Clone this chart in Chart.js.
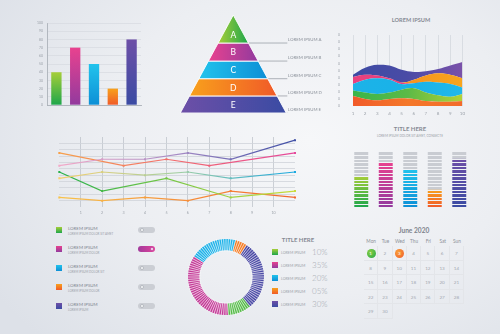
<!DOCTYPE html>
<html lang="en">
<head>
<meta charset="UTF-8">
<title>Infographic</title>
<script src="https://cdn.jsdelivr.net/npm/chart.js"></script>
<style>
  html, body { margin: 0; padding: 0; }
  body {
    width: 500px; height: 334px; overflow: hidden; position: relative;
    font-family: Lato, 'Open Sans', sans-serif;
    background: radial-gradient(ellipse 75% 85% at 62% 42%, #f6f7f9 0%, #eceef2 55%, #dde1e8 100%);
  }
  .box { position: absolute; }
  .title { position: absolute; color: #868b94; font-weight: 700; text-align: center; white-space: nowrap; }
  .small { position: absolute; color: #9aa0a8; white-space: nowrap; text-transform: uppercase; }
  .row { position: absolute; left: 56px; width: 100px; height: 10px; }
  .sq { position: absolute; left: 0; top: 0; width: 6px; height: 6px; }
  .row .t1 { position: absolute; left: 12px; top: -1px; font-size: 4.4px; color: #7f858f; white-space: nowrap; }
  .row .t2 { position: absolute; left: 12px; top: 5px; font-size: 3px; color: #9aa0a8; white-space: nowrap; }
  .tog { position: absolute; left: 82px; top: 0; width: 17px; height: 6px; border-radius: 3px; background: #cbced4; }
  .tog i { position: absolute; top: 1px; left: 1.5px; width: 4px; height: 4px; border-radius: 50%; background: #fff; box-sizing: border-box; border: 1px solid #b5b9c0; }
  .tog.on { background: linear-gradient(90deg, #a23a9c, #e0439a); }
  .tog.on i { left: auto; right: 1.5px; border-color: #c54aa4; }
  .lg { position: absolute; left: 272px; height: 8px; }
  .lg .sq { top: 0; }
  .lg .t1 { position: absolute; left: 9px; top: 1.2px; font-size: 3.6px; color: #9aa0a8; white-space: nowrap; }
  .lg .pc { position: absolute; left: 40px; top: -2.5px; font-size: 8px; color: #a2a7af; font-weight: 300; }
  #cal { position: absolute; left: 364px; top: 226px; width: 100px; }
  #cal .m { text-align: center; font-size: 6.6px; font-weight: 700; color: #7e838c; height: 10px; }
  #cal .g { display: grid; grid-template-columns: repeat(7, 14.3px); }
  #cal .h { font-size: 4.7px; color: #8b9098; text-align: center; height: 10px; line-height: 10px; }
  #cal .d { font-size: 4.6px; color: #a3a8b0; text-align: center; height: 14.5px; line-height: 14.5px; position: relative;
    border-right: 0.5px solid #e3e5e9; border-bottom: 0.5px solid #e3e5e9; box-sizing: border-box; }
  #cal .d.mk { color: #fff; }
  #cal .d.mk::before { content: ''; position: absolute; left: 2.6px; top: 2.7px; width: 9px; height: 9px; border-radius: 50%; z-index: -1; }
  #cal .d.green::before { background: radial-gradient(circle at 35% 35%, #8ccf3f, #1ea64b); }
  #cal .d.orange::before { background: radial-gradient(circle at 35% 35%, #f9a13a, #f05a28); }
</style>
</head>
<body>
  <div class="box" style="left:28px;top:17px;width:114px;height:100px"><canvas id="bars"></canvas></div>
  <div class="box" style="left:174.7px;top:15px;width:160px;height:100px"><canvas id="pyramid"></canvas></div>

  <div class="title" style="left:371px;top:16px;width:80px;font-size:5.6px">LOREM IPSUM</div>
  <div class="box" style="left:338px;top:28px;width:132px;height:88px"><canvas id="stream"></canvas></div>

  <div class="box" style="left:50px;top:133px;width:250px;height:83px"><canvas id="lines"></canvas></div>

  <div class="title" style="left:370px;top:125px;width:80px;font-size:6px">TITLE HERE</div>
  <div class="small" style="left:360px;top:134px;width:100px;font-size:3.2px;text-align:center">LOREM IPSUM DOLOR SIT AMET, CONSECTE</div>
  <div class="box" style="left:348.75px;top:152px;width:122.5px;height:63px"><canvas id="levels"></canvas></div>

  <div id="toggles"></div>

  <div class="box" style="left:187.5px;top:239px;width:76px;height:76px"><canvas id="donut"></canvas></div>
  <div class="title" style="left:278px;top:236px;width:40px;font-size:6px">TITLE HERE</div>
  <div id="donutLegend"></div>

  <div id="cal"></div>

<script>
// top left bars
const barLabels = ['1', '2', '3', '4', '5'];
const barValues = [40, 70, 50, 20, 80];

// pyramid
const pyramidLetters = ['A', 'B', 'C', 'D', 'E'];
const pyramidNames = ['LOREM IPSUM A', 'LOREM IPSUM B', 'LOREM IPSUM C', 'LOREM IPSUM D', 'LOREM IPSUM E'];
const pyramidBounds = [5, 3.57, 2.65, 1.75, 0.87, 0];

// stacked waves, bottom to top
const streamX = ['1', '2', '3', '4', '5', '6', '7', '8', '9', '10'];
const streamOrange = [14, 10, 8, 10, 11, 10, 7, 6, 6, 7];
const streamGreen = [8, 9, 9, 9, 12, 15, 12, 9, 7, 10];
const streamCyan = [9, 18, 22, 18, 8, 7, 15, 18, 18, 9];
const streamPink = [10, 7, 4, 2, 2, 0, 0, 0, 0, 0];
const streamAmber = [0, 0, 0, 0, 0, 5, 9, 13, 13, 13];
const streamIndigo = [3, 10, 15, 18, 18, 11, 6, 6, 13, 23];

// line chart, x positions 0..11 (only 1..10 labelled)
const lineX = ['', '1', '2', '3', '4', '5', '6', '7', '8', '9', '10', ''];
const lineIndigo = [6.5, null, 7.5, null, 7.5, null, 8.5, null, 7.5, null, null, 10.5];
const linePink = [8.5, null, null, 6.5, null, 7.5, null, 6.5, null, null, null, 8.5];
const lineCyan = [4.5, null, 5.5, null, 5, null, 5.5, null, 4.5, null, null, 5.5];
const lineGreen = [5.5, null, 2.5, null, null, 4.5, null, null, 1.5, null, null, 2.5];
const lineOrange = [1.5, null, 1, null, 1.5, null, 1, null, 2.5, null, null, 1.5];

// segmented columns
const optionLabels = ['OPTION 1', 'OPTION 2', 'OPTION 3', 'OPTION 4', 'OPTION 5'];
const optionFilled = [9, 13, 11, 5, 14];
const optionSegments = 16;

// donut
const donutNames = ['LOREM IPSUM', 'LOREM IPSUM', 'LOREM IPSUM', 'LOREM IPSUM', 'LOREM IPSUM'];
const donutValues = [10, 35, 20, 5, 30];
const donutText = ['10%', '35%', '20%', '05%', '30%'];

// toggle list
const toggleTitles = ['LOREM IPSUM', 'LOREM IPSUM', 'LOREM IPSUM', 'LOREM IPSUM', 'LOREM IPSUM'];
const toggleNotes = ['LOREM IPSUM DOLOR SIT AMET', 'LOREM IPSUM DOLOR', 'LOREM IPSUM DOLOR SIT', 'LOREM IPSUM DOLOR', 'LOREM IPSUM'];
const toggleOn = [false, true, false, false, false];

// calendar
const calMonth = 'June 2020';
const calDays = ['Mon', 'Tue', 'Wed', 'Thu', 'Fri', 'Sat', 'Sun'];
const calLength = 30;
const calMarks = { 1: 'green', 3: 'orange' };

// colour pairs used everywhere (light end, dark end)
const palette = {
  green: ['#a6ce39', '#1ea64b'],
  magenta: ['#e8428f', '#923a9e'],
  cyan: ['#22c3ec', '#0d8fd6'],
  orange: ['#f8a11c', '#f05a28'],
  indigo: ['#6d4fa7', '#3a4ba3']
};
const order = ['green', 'magenta', 'cyan', 'orange', 'indigo'];
const donutColors = ['#55bb48', '#c43c98', '#1fb2e8', '#f47b23', '#4d4ca6'];

Chart.defaults.font.family = 'Lato';
Chart.defaults.color = '#9aa0a8';
Chart.defaults.animation = false;
Chart.defaults.plugins.legend.display = false;
Chart.defaults.plugins.tooltip.enabled = false;

function hGrad(chart, stops, x0, x1) {
  const a = chart.chartArea;
  if (!a) return stops[0];
  const g = chart.ctx.createLinearGradient(x0 ?? a.left, 0, x1 ?? a.right, 0);
  stops.forEach((c, i) => g.addColorStop(i / (stops.length - 1), c));
  return g;
}
function vGrad(chart, top, bottom, stops) {
  const g = chart.ctx.createLinearGradient(0, bottom, 0, top);
  stops.forEach((c, i) => g.addColorStop(i / (stops.length - 1), c));
  return g;
}

// ---- bars
new Chart(document.getElementById('bars'), {
  type: 'bar',
  data: {
    labels: barLabels,
    datasets: [{
      data: barValues,
      barPercentage: 0.55,
      categoryPercentage: 1,
      backgroundColor: ctx => {
        const chart = ctx.chart;
        if (!chart.chartArea) return '#999';
        const c = palette[order[ctx.dataIndex]];
        return vGrad(chart, chart.scales.y.getPixelForValue(ctx.raw), chart.chartArea.bottom, [c[1], c[0]]);
      }
    }]
  },
  options: {
    responsive: true, maintainAspectRatio: false,
    layout: { padding: { top: 3, right: 1 } },
    scales: {
      x: {
        grid: { display: false },
        border: { color: '#a5abb3', width: 0.8 },
        ticks: { font: { size: 4.5 }, padding: 4 },
        afterFit: s => { s.height = 12; }
      },
      y: {
        min: 0, max: 100,
        ticks: { stepSize: 10, font: { size: 3.4 }, padding: 4 },
        grid: { color: '#d3d7dd', lineWidth: 0.6, drawTicks: false },
        border: { color: '#a5abb3', width: 0.8 },
        afterFit: s => { s.width = 19; }
      }
    }
  }
});

// ---- pyramid
const halfWidth = v => 1 - v / 5;
const labelX = 1.02;
const pyramidSets = pyramidLetters.map((l, i) => {
  const top = pyramidBounds[i], bot = pyramidBounds[i + 1];
  const c = palette[order[i]];
  return {
    type: 'scatter', showLine: true, fill: 'shape',
    data: [{ x: -halfWidth(top), y: top }, { x: halfWidth(top), y: top }, { x: halfWidth(bot), y: bot }, { x: -halfWidth(bot), y: bot }, { x: -halfWidth(top), y: top }],
    borderColor: 'rgba(255,255,255,0.9)', borderWidth: 1, pointRadius: 0,
    backgroundColor: ctx => {
      const ch = ctx.chart;
      if (!ch.chartArea) return c[0];
      const xs = ch.scales.x;
      return hGrad(ch, [c[0], c[1]], xs.getPixelForValue(-halfWidth(bot)), xs.getPixelForValue(halfWidth(bot)));
    }
  };
});
const leaderSets = pyramidLetters.map((l, i) => {
  const bot = pyramidBounds[i + 1];
  return {
    type: 'scatter', showLine: true, fill: false,
    data: [{ x: halfWidth(bot) + 0.01, y: bot }, { x: labelX, y: bot }],
    borderColor: '#8f959e', borderWidth: 0.7, pointRadius: 0
  };
});
const pyramidText = {
  id: 'pyramidText',
  afterDatasetsDraw(chart) {
    const { ctx, scales: { x, y } } = chart;
    ctx.save();
    pyramidLetters.forEach((letter, i) => {
      const top = pyramidBounds[i], bot = pyramidBounds[i + 1];
      const mid = bot + (top - bot) * (i === 0 ? 0.3 : 0.5);
      ctx.fillStyle = '#ffffff';
      ctx.font = '8.5px Lato';
      ctx.textAlign = 'center';
      ctx.textBaseline = 'middle';
      ctx.fillText(letter, x.getPixelForValue(0), y.getPixelForValue(mid) + 0.5);
      ctx.fillStyle = '#8a9099';
      ctx.font = '4.4px Lato';
      ctx.textAlign = 'left';
      ctx.textBaseline = 'bottom';
      ctx.fillText(pyramidNames[i], x.getPixelForValue(labelX) + 0.5, y.getPixelForValue(bot) - 1.2);
    });
    ctx.restore();
  }
};
new Chart(document.getElementById('pyramid'), {
  type: 'scatter',
  data: { datasets: [...pyramidSets, ...leaderSets] },
  options: {
    responsive: true, maintainAspectRatio: false,
    layout: { padding: { bottom: 2, top: 0 } },
    scales: {
      x: { type: 'linear', min: -1.1, max: 1.92, display: false },
      y: { type: 'linear', min: 0, max: 5, display: false }
    }
  },
  plugins: [pyramidText]
});

// ---- stream
const streamSeries = [
  [streamOrange, ['#f15a29', '#f4782a', '#f26a2a']],
  [streamGreen, ['#3ab54a', '#5cba47', '#b3d235']],
  [streamCyan, ['#1cb3e8', '#19b2e8', '#21b8ea']],
  [streamPink, ['#e8417e', '#e8417e', '#e8417e']],
  [streamAmber, ['#f7931e', '#f7931e', '#f8a51d']],
  [streamIndigo, ['#3d4ba3', '#4a4ba6', '#7a51a9']]
];
new Chart(document.getElementById('stream'), {
  type: 'line',
  data: {
    labels: streamX,
    datasets: streamSeries.map(([vals, stops], i) => ({
      data: vals,
      fill: i === 0 ? 'origin' : '-1',
      tension: 0.4, pointRadius: 0, borderWidth: 0,
      backgroundColor: ctx => hGrad(ctx.chart, stops)
    }))
  },
  options: {
    responsive: true, maintainAspectRatio: false,
    layout: { padding: { top: 2.7, right: 3 } },
    scales: {
      x: {
        grid: { color: 'rgba(200,204,212,0.9)', lineWidth: 0.6, drawTicks: false },
        border: { display: false },
        ticks: { font: { size: 4.5 }, padding: 5 },
        afterFit: s => { s.height = 10; }
      },
      y: {
        stacked: true, min: 0, max: 100,
        grid: { display: false },
        border: { display: false },
        ticks: { stepSize: 10, font: { size: 3.4 }, padding: 5 },
        afterFit: s => { s.width = 15; }
      }
    }
  }
});

// ---- lines
const lineSeries = [
  [lineIndigo, ['#f3a9c8', '#a58ac4', '#3f4fa6']],
  [linePink, ['#f7a04a', '#f26a6e', '#e5489b']],
  [lineCyan, ['#f6cf6c', '#a4cfa2', '#1aa8e0']],
  [lineGreen, ['#27b04b', '#7cc845', '#c8dc3a']],
  [lineOrange, ['#f8c34a', '#f6923c', '#f2662e']]
];
new Chart(document.getElementById('lines'), {
  type: 'line',
  data: {
    labels: lineX,
    datasets: lineSeries.map(([vals, stops]) => ({
      data: vals, spanGaps: true, fill: false, tension: 0,
      borderWidth: 1.2, pointStyle: 'rect', pointRadius: 1.4, pointBorderWidth: 0,
      borderColor: ctx => hGrad(ctx.chart, stops),
      pointBackgroundColor: ctx => hGrad(ctx.chart, stops)
    }))
  },
  options: {
    responsive: true, maintainAspectRatio: false,
    layout: { padding: { left: 9.3, right: 5, top: 4 } },
    scales: {
      x: {
        grid: {
          color: ctx => (ctx.index === 0 || ctx.index === lineX.length - 1) ? 'rgba(0,0,0,0)' : '#b9bec6',
          lineWidth: 0.7, drawTicks: false
        },
        border: { display: false },
        ticks: { font: { size: 3.6 }, padding: 4 },
        afterFit: s => { s.height = 9; }
      },
      y: {
        min: 0, max: 11,
        ticks: { display: false, stepSize: 1 },
        grid: {
          color: ctx => (ctx.tick.value === 0 || ctx.tick.value === 11) ? 'rgba(0,0,0,0)' : '#cfd3d9',
          lineWidth: 0.8, drawTicks: false
        },
        border: { display: false },
        afterFit: s => { s.width = 0; }
      }
    }
  }
});

// ---- segmented columns
const segmentCut = {
  id: 'segmentCut',
  afterDatasetsDraw(chart) {
    const { ctx, scales: { y } } = chart;
    chart.getDatasetMeta(0).data.forEach(bar => {
      for (let k = 1; k < optionSegments; k++) {
        const py = Math.round(y.getPixelForValue(k));
        ctx.clearRect(bar.x - bar.width / 2 - 1, py - 0.5, bar.width + 2, 1);
      }
    });
  }
};
new Chart(document.getElementById('levels'), {
  type: 'bar',
  data: {
    labels: optionLabels,
    datasets: [{
      data: optionFilled,
      barPercentage: 0.57, categoryPercentage: 1,
      backgroundColor: ctx => {
        const chart = ctx.chart;
        if (!chart.chartArea) return '#999';
        const c = palette[order[ctx.dataIndex]];
        return vGrad(chart, chart.scales.y.getPixelForValue(ctx.raw), chart.chartArea.bottom, [c[1], c[0]]);
      }
    }, {
      data: optionFilled.map(v => optionSegments - v),
      barPercentage: 0.57, categoryPercentage: 1,
      backgroundColor: '#c9ccd2'
    }]
  },
  options: {
    responsive: true, maintainAspectRatio: false,
    layout: { padding: 0 },
    scales: {
      x: {
        stacked: true,
        grid: { display: false }, border: { display: false },
        ticks: { font: { size: 3.2 }, padding: 3 },
        afterFit: s => { s.height = 8; }
      },
      y: { stacked: true, min: 0, max: optionSegments, display: false }
    }
  },
  plugins: [segmentCut]
});

// ---- donut
const donutStripes = {
  id: 'donutStripes',
  afterDatasetsDraw(chart) {
    const arc = chart.getDatasetMeta(0).data[0];
    if (!arc) return;
    const { ctx } = chart;
    const { x, y, innerRadius, outerRadius } = arc;
    ctx.save();
    ctx.strokeStyle = 'rgba(255,255,255,0.85)';
    ctx.lineWidth = 0.8;
    for (let k = 0; k < 100; k++) {
      const a = (k / 100) * Math.PI * 2;
      ctx.beginPath();
      ctx.moveTo(x + Math.cos(a) * (innerRadius - 1), y + Math.sin(a) * (innerRadius - 1));
      ctx.lineTo(x + Math.cos(a) * (outerRadius + 1), y + Math.sin(a) * (outerRadius + 1));
      ctx.stroke();
    }
    ctx.restore();
  }
};
new Chart(document.getElementById('donut'), {
  type: 'doughnut',
  data: {
    labels: donutNames,
    datasets: [{
      data: donutValues,
      backgroundColor: donutColors,
      borderWidth: 0
    }]
  },
  options: {
    responsive: true, maintainAspectRatio: false,
    cutout: '70%', rotation: 141,
    layout: { padding: 0 }
  },
  plugins: [donutStripes]
});

// ---- html parts
const sqStyle = k => `background:linear-gradient(180deg, ${palette[k][0]}, ${palette[k][1]})`;
document.getElementById('toggles').innerHTML = toggleTitles.map((t, i) => `
  <div class="row" style="top:${227 + i * 19}px">
    <div class="sq" style="${sqStyle(order[i])}"></div>
    <div class="t1">${t}</div>
    <div class="t2">${toggleNotes[i]}</div>
    <div class="tog${toggleOn[i] ? ' on' : ''}"><i></i></div>
  </div>`).join('');

document.getElementById('donutLegend').innerHTML = donutNames.map((n, i) => `
  <div class="lg" style="top:${249 + i * 13}px">
    <div class="sq" style="${sqStyle(order[i])}"></div>
    <div class="t1">${n}</div>
    <div class="pc">${donutText[i]}</div>
  </div>`).join('');

let cal = `<div class="m">${calMonth}</div><div class="g">`;
cal += calDays.map(d => `<div class="h">${d}</div>`).join('');
for (let d = 1; d <= calLength; d++) {
  const mk = calMarks[d] ? ` mk ${calMarks[d]}` : '';
  cal += `<div class="d${mk}">${d}</div>`;
}
cal += '</div>';
document.getElementById('cal').innerHTML = cal;
</script>
</body>
</html>
